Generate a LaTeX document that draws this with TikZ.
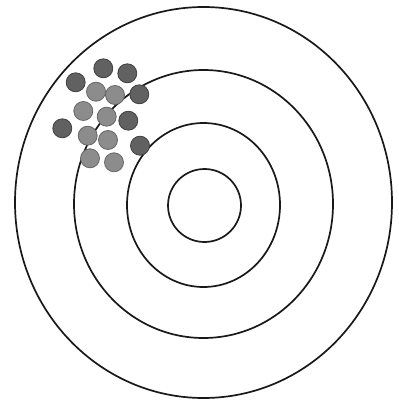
\documentclass[tikz,border=0pt]{standalone}
\usepackage{tikz}
\tikzset{
  ring/.style={line width=1.7pt, draw=black!90},
  hitdark/.style={circle, minimum size=19pt, inner sep=0pt, fill=black!62, draw=black!75, line width=0.8pt},
  hitpale/.style={circle, minimum size=19pt, inner sep=0pt, fill=black!45, draw=black!60, line width=0.8pt}
}

\begin{document}
\begin{tikzpicture}[x=1pt, y=-1pt]
    \useasboundingbox (0,0) rectangle (398,403);
    % target rings
    \draw[ring] (203.5,202.5) ellipse [x radius=188.5, y radius=195.5];
    \draw[ring] (203.5,204) ellipse [x radius=129.5, y radius=134];
    \draw[ring] (203.5,205) ellipse [x radius=76.5, y radius=82];
    \draw[ring] (204.5,205.5) ellipse [x radius=36.5, y radius=36.5];
    % hits
    \node[hitdark] (h1) at (103.3,68.3) {};
    \node[hitdark] (h2) at (127.3,73.3) {};
    \node[hitdark] (h3) at (75.7,82.3) {};
    \node[hitpale] (h4) at (96,91.7) {};
    \node[hitpale] (h5) at (115,95) {};
    \node[hitdark] (h6) at (139.3,94.3) {};
    \node[hitpale] (h7) at (83.3,111) {};
    \node[hitpale] (h8) at (106.7,116.7) {};
    \node[hitdark] (h9) at (128.3,120.7) {};
    \node[hitdark] (h10) at (62.3,128.3) {};
    \node[hitpale] (h11) at (87.7,135.7) {};
    \node[hitpale] (h12) at (108,140) {};
    \node[hitdark] (h13) at (140,145.7) {};
    \node[hitpale] (h14) at (90,158.3) {};
    \node[hitpale] (h15) at (114,162.3) {};
  \end{tikzpicture}
\end{document}
